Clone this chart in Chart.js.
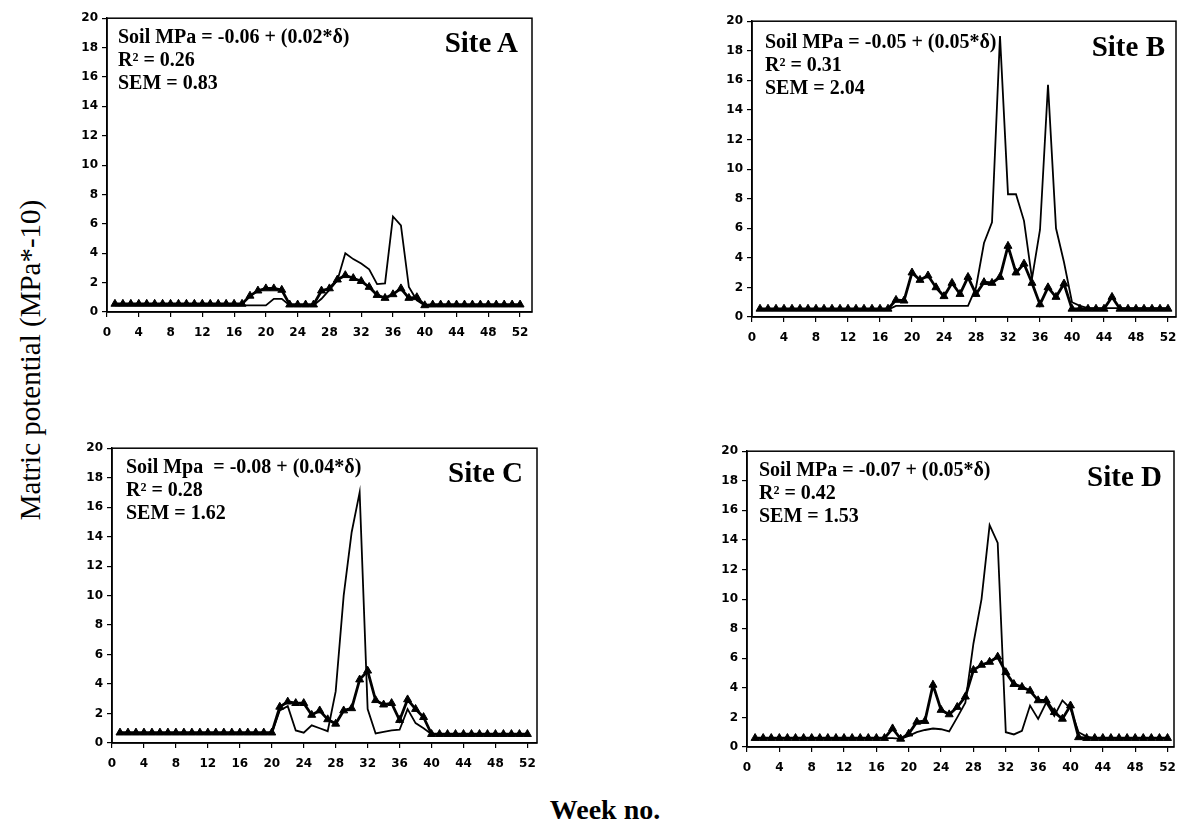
<!DOCTYPE html>
<html>
<head>
<meta charset="utf-8">
<script src="https://cdn.jsdelivr.net/npm/chart.js@4.4.1/dist/chart.umd.min.js"></script>
<style>
  html, body { margin:0; padding:0; background:#fff; }
  body { width:1182px; height:826px; position:relative; overflow:hidden; }
  canvas { position:absolute; }
  .eq { position:absolute; font-family:"Liberation Serif","Times New Roman",serif; font-weight:bold; font-size:20px; line-height:23px; color:#000; white-space:pre; }
  .site { position:absolute; font-family:"Liberation Serif","Times New Roman",serif; font-weight:bold; font-size:29px; color:#000; white-space:nowrap; text-align:right; }
  .ytitle { position:absolute; font-family:"Liberation Serif","Times New Roman",serif; font-size:29px; color:#000; white-space:nowrap; transform:translate(-50%,-50%) rotate(-90deg); }
  .xtitle { position:absolute; font-family:"Liberation Serif","Times New Roman",serif; font-weight:bold; font-size:28px; color:#000; white-space:nowrap; transform:translate(-50%,-50%); }
</style>
</head>
<body>
<script>
// ---------------- DATA ----------------
const weeks = [1,2,3,4,5,6,7,8,9,10,11,12,13,14,15,16,17,18,19,20,21,22,23,24,25,26,
               27,28,29,30,31,32,33,34,35,36,37,38,39,40,41,42,43,44,45,46,47,48,49,50,51,52];
const xTickLabels = [0,4,8,12,16,20,24,28,32,36,40,44,48,52];
const yTickLabels = [0,2,4,6,8,10,12,14,16,18,20];

// Site A
const siteA_plain = [0.45,0.45,0.45,0.45,0.45,0.45,0.45,0.45,0.45,0.45,0.45,0.45,0.45,0.45,0.45,0.45,0.45,0.45,0.45,0.45,
  0.9,0.9,0.45,0.45,0.45,0.45,0.9,1.5,2.15,4.0,3.6,3.3,2.9,1.9,1.95,6.5,5.9,1.7,0.8,0.45,
  0.4,0.4,0.4,0.4,0.4,0.4,0.4,0.4,0.4,0.4,0.4,0.4];
const siteA_tri = [0.55,0.55,0.55,0.55,0.55,0.55,0.55,0.55,0.55,0.55,0.55,0.55,0.55,0.55,0.55,0.55,0.55,
  1.1,1.45,1.6,1.6,1.5,0.5,0.5,0.5,0.5,1.45,1.6,2.2,2.5,2.3,2.1,1.7,1.15,0.95,1.2,1.6,0.95,1.0,0.45,
  0.5,0.5,0.5,0.5,0.5,0.5,0.5,0.5,0.5,0.5,0.5,0.5];

// Site B
const siteB_plain = [0.5,0.5,0.5,0.5,0.5,0.5,0.5,0.5,0.5,0.5,0.5,0.5,0.5,0.5,0.5,0.5,0.5,
  0.75,0.75,0.75,0.75,0.75,0.75,0.75,0.75,0.75,0.75,
  2.0,5.0,6.4,19.0,8.3,8.3,6.5,2.6,5.9,15.7,6.0,3.7,1.0,0.75,
  0.6,0.6,0.6,0.6,0.6,0.6,0.6,0.6,0.6,0.6,0.6];
const siteB_tri = [0.55,0.55,0.55,0.55,0.55,0.55,0.55,0.55,0.55,0.55,0.55,0.55,0.55,0.55,0.55,0.55,0.55,
  1.15,1.1,3.0,2.5,2.8,2.0,1.4,2.3,1.55,2.7,1.55,2.35,2.3,2.7,4.8,3.0,3.6,2.3,0.85,2.0,1.35,2.25,
  0.55,0.55,0.55,0.55,0.55,1.35,0.55,0.55,0.55,0.55,0.55,0.55,0.55];

// Site C
const siteC_plain = [0.65,0.65,0.65,0.65,0.65,0.65,0.65,0.65,0.65,0.65,0.65,0.65,0.65,0.65,0.65,0.65,0.65,0.65,0.65,0.65,
  2.2,2.5,0.85,0.7,1.2,1.0,0.8,3.5,10.0,14.3,17.0,2.3,0.65,0.75,0.85,0.9,2.3,1.35,1.0,0.6,
  0.55,0.55,0.55,0.55,0.55,0.55,0.55,0.55,0.55,0.55,0.55,0.55];
const siteC_tri = [0.7,0.7,0.7,0.7,0.7,0.7,0.7,0.7,0.7,0.7,0.7,0.7,0.7,0.7,0.7,0.7,0.7,0.7,0.7,0.7,
  2.45,2.8,2.7,2.7,1.9,2.2,1.6,1.3,2.2,2.35,4.3,4.9,2.9,2.6,2.7,1.55,2.95,2.3,1.75,0.6,
  0.6,0.6,0.6,0.6,0.6,0.6,0.6,0.6,0.6,0.6,0.6,0.6];

// Site D
const siteD_plain = [0.6,0.6,0.6,0.6,0.6,0.6,0.6,0.6,0.6,0.6,0.6,0.6,0.6,0.6,0.6,0.6,0.6,0.6,
  0.55,0.75,1.0,1.15,1.25,1.2,1.05,2.0,3.0,7.0,10.0,15.0,13.8,1.0,0.85,1.1,2.8,1.9,3.0,2.1,3.15,2.6,1.0,0.7,
  0.6,0.6,0.6,0.6,0.6,0.6,0.6,0.6,0.6,0.6];
const siteD_tri = [0.6,0.6,0.6,0.6,0.6,0.6,0.6,0.6,0.6,0.6,0.6,0.6,0.6,0.6,0.6,0.6,0.6,
  1.25,0.55,0.9,1.7,1.75,4.2,2.5,2.2,2.7,3.4,5.2,5.55,5.75,6.1,5.05,4.25,4.05,3.8,3.15,3.15,2.35,1.9,2.8,0.65,
  0.6,0.6,0.6,0.6,0.6,0.6,0.6,0.6,0.6,0.6,0.6];

const siteNames = ["Site A","Site B","Site C","Site D"];
const equations = ["Soil MPa = -0.06 + (0.02*δ)","Soil MPa = -0.05 + (0.05*δ)","Soil Mpa  = -0.08 + (0.04*δ)","Soil MPa = -0.07 + (0.05*δ)"];
const r2Values = ["0.26","0.31","0.28","0.42"];
const semValues = ["0.83","2.04","1.62","1.53"];

// ---------------- LAYOUT ----------------
const panels = [
  {plain:siteA_plain, tri:siteA_tri, l:107, t:17,  r:532,  b:312, xMax:53.5, eqX:118, eqY:25,  siteR:518,  siteY:26},
  {plain:siteB_plain, tri:siteB_tri, l:752, t:20,  r:1176, b:317, xMax:53.0, eqX:765, eqY:30,  siteR:1165, siteY:30},
  {plain:siteC_plain, tri:siteC_tri, l:112, t:447, r:537,  b:743, xMax:53.2, eqX:126, eqY:455, siteR:523,  siteY:456},
  {plain:siteD_plain, tri:siteD_tri, l:747, t:450, r:1174, b:747, xMax:52.8, eqX:759, eqY:458, siteR:1162, siteY:460}
];

const AXW = 45, AXH = 36, PT = 10, PR = 14;

const boxPlugin = {
  id:'box',
  afterDraw(chart){
    const a = chart.chartArea, c = chart.ctx;
    c.save(); c.strokeStyle='#000'; c.lineWidth=1.5;
    c.strokeRect(a.left, a.top, a.right-a.left, a.bottom-a.top);
    c.restore();
  }
};

panels.forEach((p, i) => {
  const cv = document.createElement('canvas');
  const w = (p.r - p.l) + AXW + PR, h = (p.b - p.t) + PT + AXH;
  cv.width = w; cv.height = h;
  cv.style.left = (p.l - AXW) + 'px';
  cv.style.top = (p.t - PT) + 'px';
  cv.style.width = w + 'px'; cv.style.height = h + 'px';
  document.body.appendChild(cv);

  const tickFont = {family:"'DejaVu Sans', 'Liberation Sans', Arial, sans-serif", size:12, weight:'bold'};
  new Chart(cv.getContext('2d'), {
    type:'line',
    data:{
      datasets:[
        {data: weeks.map((wk,k)=>({x:wk, y:p.plain[k]})), borderColor:'#000', borderWidth:1.8, pointRadius:0, tension:0, order:2},
        {data: weeks.map((wk,k)=>({x:wk, y:p.tri[k]})), borderColor:'#000', backgroundColor:'#000', borderWidth:2.8,
         pointStyle:'triangle', pointRadius:4.6, pointBackgroundColor:'#000', pointBorderColor:'#000', pointBorderWidth:1, tension:0, order:1}
      ]
    },
    options:{
      responsive:false, animation:false, devicePixelRatio:1,
      layout:{padding:{left:0, top:PT, right:PR, bottom:0}},
      plugins:{legend:{display:false}, tooltip:{enabled:false}},
      scales:{
        x:{type:'linear', min:0, max:p.xMax,
           afterBuildTicks: s => { s.ticks = xTickLabels.map(v=>({value:v})); },
           afterFit: s => { s.height = AXH; },
           grid:{drawOnChartArea:false, drawTicks:true, tickLength:5, color:'#000', lineWidth:1.2},
           border:{display:true, color:'#000', width:1.5},
           ticks:{color:'#000', font:tickFont, padding:9, maxRotation:0, autoSkip:false}},
        y:{type:'linear', min:0, max:20,
           afterBuildTicks: s => { s.ticks = yTickLabels.map(v=>({value:v})); },
           afterFit: s => { s.width = AXW; },
           grid:{drawOnChartArea:false, drawTicks:true, tickLength:5, color:'#000', lineWidth:1.2},
           border:{display:true, color:'#000', width:1.5},
           ticks:{color:'#000', font:tickFont, padding:4}}
      }
    },
    plugins:[boxPlugin]
  });

  const eq = document.createElement('div');
  eq.className = 'eq';
  eq.style.left = p.eqX + 'px'; eq.style.top = p.eqY + 'px';
  eq.textContent = equations[i] + "\nR² = " + r2Values[i] + "\nSEM = " + semValues[i];
  document.body.appendChild(eq);

  const st = document.createElement('div');
  st.className = 'site';
  st.style.right = (1182 - p.siteR) + 'px'; st.style.top = p.siteY + 'px';
  st.textContent = siteNames[i];
  document.body.appendChild(st);
});

const yt = document.createElement('div');
yt.className = 'ytitle'; yt.style.left = '30px'; yt.style.top = '360px';
yt.textContent = 'Matric potential (MPa*-10)';
document.body.appendChild(yt);

const xt = document.createElement('div');
xt.className = 'xtitle'; xt.style.left = '605px'; xt.style.top = '810px';
xt.textContent = 'Week no.';
document.body.appendChild(xt);
</script>
</body>
</html>
